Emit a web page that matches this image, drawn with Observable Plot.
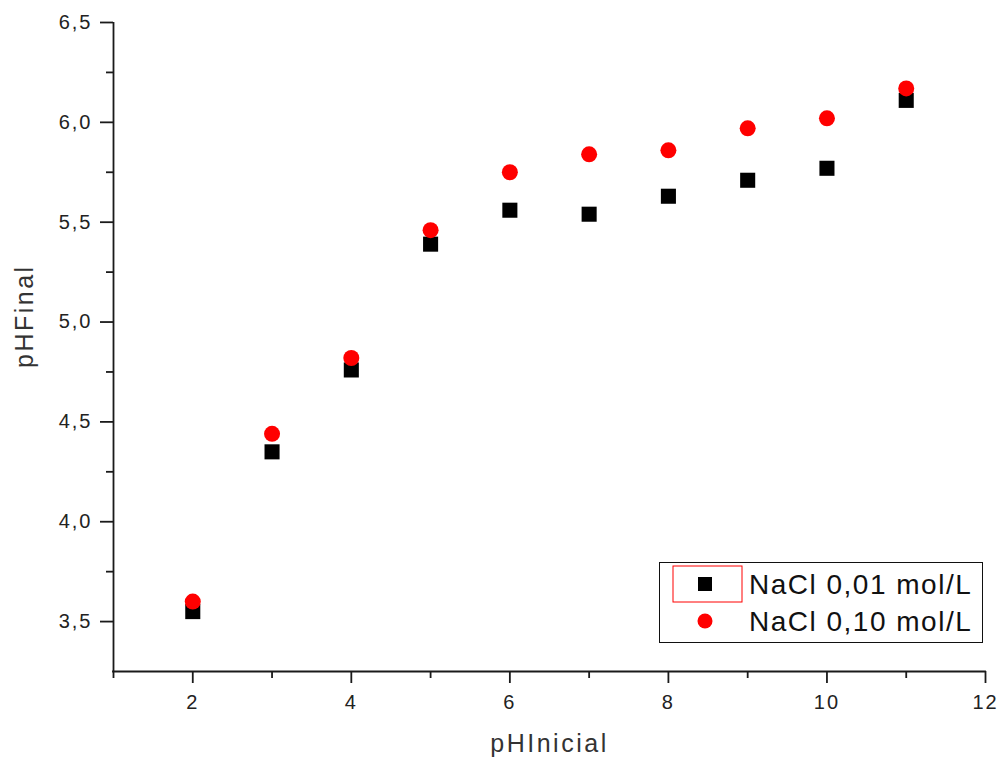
<!DOCTYPE html>
<html>
<head>
<meta charset="utf-8">
<script src="https://cdn.jsdelivr.net/npm/d3@7"></script>
<script src="https://cdn.jsdelivr.net/npm/@observablehq/plot@0.6"></script>
<style>
  html, body { margin: 0; padding: 0; background: #fff; }
  #wrap { position: relative; width: 1000px; height: 765px; font-family: "Liberation Sans", Arial, sans-serif; }
  g[aria-label="y-axis tick label"] text { letter-spacing: 2px; font-size: 20px; }
  g[aria-label="x-axis tick label"] text { letter-spacing: 2px; font-size: 20px; }
  g[aria-label="text"] text { letter-spacing: 2.5px; }
  #legend { position: absolute; left: 659px; top: 562px; width: 322px; height: 79px; border: 1.5px solid #111; background: #fff; }
  #legend svg { position: absolute; left: 0; top: 0; }
</style>
</head>
<body>
<div id="wrap"></div>
<script>
// Data
const phInicial = [2, 3, 4, 5, 6, 7, 8, 9, 10, 11];
const nacl001 = [3.55, 4.35, 4.76, 5.39, 5.56, 5.54, 5.63, 5.71, 5.77, 6.11];
const nacl010 = [3.60, 4.44, 4.82, 5.46, 5.75, 5.84, 5.86, 5.97, 6.02, 6.17];
const seriesNames = ["NaCl 0,01 mol/L", "NaCl 0,10 mol/L"];
const xDomain = [1, 12];
const yDomain = [3.25, 6.5];
const xMajor = [2, 4, 6, 8, 10, 12];
const xMinor = [1, 3, 5, 7, 9, 11];
const yMajor = [3.5, 4.0, 4.5, 5.0, 5.5, 6.0, 6.5];
const yMinor = [3.75, 4.25, 4.75, 5.25, 5.75, 6.25];
const xTitle = "pHInicial";
const yTitle = "pHFinal";

const rows001 = phInicial.map((x, i) => ({x, y: nacl001[i]}));
const rows010 = phInicial.map((x, i) => ({x, y: nacl010[i]}));
const comma = d => d.toFixed(1).replace(".", ",");
const axisColor = "#1a1a1a";

const chart = Plot.plot({
  width: 1000,
  height: 765,
  marginLeft: 113,
  marginRight: 15,
  marginTop: 22,
  marginBottom: 94,
  style: {fontFamily: "'Liberation Sans', Arial, sans-serif", fontSize: "20px", background: "#fff", overflow: "visible"},
  x: {domain: xDomain, label: null},
  y: {domain: yDomain, label: null},
  marks: [
    Plot.ruleX([xDomain[0]], {y1: yDomain[0], y2: yDomain[1], stroke: axisColor, strokeWidth: 1.8}),
    Plot.ruleY([yDomain[0]], {x1: xDomain[0], x2: xDomain[1], stroke: axisColor, strokeWidth: 1.8, strokeLinecap: "square"}),
    Plot.axisY({ticks: yMajor, tickSize: 13, tickPadding: 8, tickFormat: comma, stroke: axisColor, strokeWidth: 1.8, fill: "#222", fontSize: 20, label: null}),
    Plot.axisY({ticks: yMinor, tickSize: 7, tickFormat: () => "", stroke: axisColor, strokeWidth: 1.8, label: null}),
    Plot.axisX({ticks: xMajor, tickSize: 12, tickPadding: 11, tickFormat: d => String(d), stroke: axisColor, strokeWidth: 1.8, fill: "#222", fontSize: 20, label: null}),
    Plot.axisX({ticks: xMinor, tickSize: 7, tickFormat: () => "", stroke: axisColor, strokeWidth: 1.8, label: null}),
    Plot.dot(rows001, {x: "x", y: "y", symbol: "square", r: 8.5, fill: "#000", stroke: "none"}),
    Plot.dot(rows010, {x: "x", y: "y", symbol: "circle", r: 8, fill: "#ff0000", stroke: "none"}),
    Plot.text([yTitle], {frameAnchor: "left", rotate: -90, dx: -89, dy: 21, fontSize: 25, fill: "#333"}),
    Plot.text([xTitle], {frameAnchor: "bottom", dy: 80, fontSize: 25, fill: "#333"})
  ]
});

const wrap = document.getElementById("wrap");
wrap.appendChild(chart);

// Legend (HTML overlay)
const legend = document.createElement("div");
legend.id = "legend";
legend.innerHTML = `
<svg width="322" height="79" xmlns="http://www.w3.org/2000/svg" style="font-family:'Liberation Sans',Arial,sans-serif">
  <rect x="13" y="3" width="69" height="36" fill="none" stroke="#ff0000" stroke-width="1"></rect>
  <rect x="38" y="14" width="14" height="14" fill="#000"></rect>
  <circle cx="45" cy="58" r="7.5" fill="#ff0000"></circle>
  <text x="89" y="31" font-size="28" fill="#111" style="letter-spacing:1.5px">${seriesNames[0]}</text>
  <text x="89" y="68" font-size="28" fill="#111" style="letter-spacing:1.5px">${seriesNames[1]}</text>
</svg>`;
wrap.appendChild(legend);
</script>
</body>
</html>
